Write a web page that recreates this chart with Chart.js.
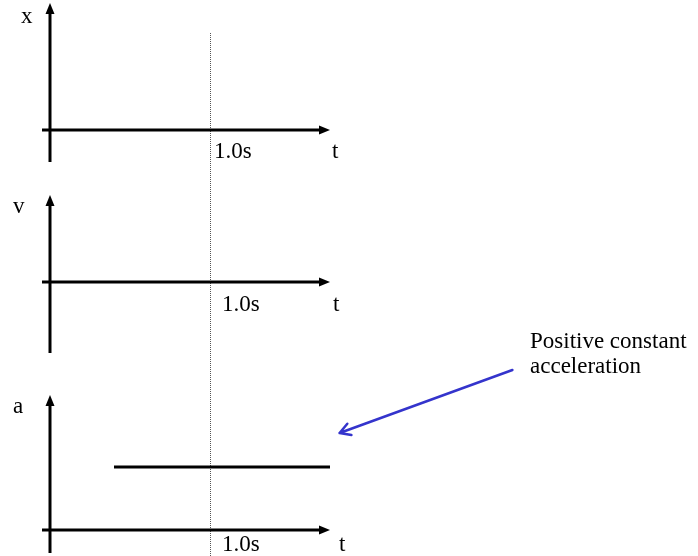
<!DOCTYPE html>
<html>
<head>
<meta charset="utf-8">
<script src="https://cdn.jsdelivr.net/npm/chart.js@4/dist/chart.umd.min.js"></script>
<style>
  html, body { margin: 0; padding: 0; background: #ffffff; }
  #wrap { position: relative; width: 698px; height: 556px; }
</style>
</head>
<body>
<div id="wrap"><canvas id="chart" width="698" height="556"></canvas></div>
<script>
// ---------------- data ----------------
const panelVariables = ['x', 'v', 'a'];
const timeAxisLabel = 't';
const markerTimes = [1.0];
const markerLabels = ['1.0s'];
const accelerationTimes = [0.4, 1.75];
const accelerationValues = [1, 1];
const annotationLines = ['Positive constant', 'acceleration'];

// ---------------- layout (positions / styles) ----------------
const W = 698, H = 556;
const PX_PER_SECOND = 160;
const T_ZERO_PX = 50;
const UNIT_PX = 63;
const T_AXIS_START = -0.05;
const T_AXIS_END = 1.75;
const FONT = '23px "Liberation Serif", "Times New Roman", serif';

const PANELS = [
  { scale: 'yX', zeroPx: 130, axisTopPx: 3,   axisBottomPx: 162, label: [21, 23],  tick: [214, 158], tLabel: [332, 158] },
  { scale: 'yV', zeroPx: 282, axisTopPx: 195, axisBottomPx: 353, label: [13, 213], tick: [222, 311], tLabel: [333, 311] },
  { scale: 'yA', zeroPx: 530, axisTopPx: 395, axisBottomPx: 553, label: [13, 413], tick: [222, 551], tLabel: [339, 551] }
];
const MARKER_TOP_PX = 33;
const ANNOTATION = { tail: [2.89, 2.54], tip: [1.81, 1.54], scale: 'yA', text: [530, 348], lineGap: 25, color: '#3434cc' };

// y scales, one per panel; 0 sits on that panel's t axis
const scales = {
  x: { type: 'linear', display: false, min: -T_ZERO_PX / PX_PER_SECOND, max: (W - T_ZERO_PX) / PX_PER_SECOND, bounds: 'data' }
};
PANELS.forEach(p => {
  scales[p.scale] = {
    type: 'linear', display: false, position: 'left', bounds: 'data', grace: 0,
    min: (p.zeroPx - H) / UNIT_PX, max: p.zeroPx / UNIT_PX
  };
  p.axisTop = (p.zeroPx - p.axisTopPx) / UNIT_PX;
  p.axisBottom = (p.zeroPx - p.axisBottomPx) / UNIT_PX;
});

function drawFilledArrowHead(ctx, tipX, tipY, dir, len, half) {
  ctx.beginPath();
  if (dir === 'up') {
    ctx.moveTo(tipX, tipY);
    ctx.lineTo(tipX - half, tipY + len);
    ctx.lineTo(tipX + half, tipY + len);
  } else {
    ctx.moveTo(tipX, tipY);
    ctx.lineTo(tipX - len, tipY - half);
    ctx.lineTo(tipX - len, tipY + half);
  }
  ctx.closePath();
  ctx.fill();
}

const decorations = {
  id: 'decorations',
  beforeDatasetsDraw(chart) {
    const ctx = chart.ctx;
    const xs = chart.scales.x;
    ctx.save();
    ctx.strokeStyle = '#555555';
    ctx.lineWidth = 1;
    ctx.setLineDash([1, 1]);
    markerTimes.forEach(t => {
      const px = Math.round(xs.getPixelForValue(t)) + 0.5;
      ctx.beginPath();
      ctx.moveTo(px, MARKER_TOP_PX);
      ctx.lineTo(px, H);
      ctx.stroke();
    });
    ctx.restore();
  },
  afterDatasetsDraw(chart) {
    const ctx = chart.ctx;
    const xs = chart.scales.x;
    ctx.save();
    ctx.strokeStyle = '#000000';
    ctx.fillStyle = '#000000';
    ctx.lineWidth = 3;
    ctx.setLineDash([]);
    const x0 = xs.getPixelForValue(0);
    PANELS.forEach((p, i) => {
      const ys = chart.scales[p.scale];
      const yZero = ys.getPixelForValue(0);
      const yTop = ys.getPixelForValue(p.axisTop);
      const yBottom = ys.getPixelForValue(p.axisBottom);
      // vertical axis
      ctx.beginPath();
      ctx.moveTo(x0, yBottom);
      ctx.lineTo(x0, yTop + 9);
      ctx.stroke();
      drawFilledArrowHead(ctx, x0, yTop, 'up', 11, 4.5);
      // time axis
      const xStart = xs.getPixelForValue(T_AXIS_START);
      const xEnd = xs.getPixelForValue(T_AXIS_END);
      ctx.beginPath();
      ctx.moveTo(xStart, yZero);
      ctx.lineTo(xEnd - 9, yZero);
      ctx.stroke();
      drawFilledArrowHead(ctx, xEnd, yZero, 'right', 11, 4.5);
      // labels
      ctx.font = FONT;
      ctx.textAlign = 'left';
      ctx.textBaseline = 'alphabetic';
      ctx.fillText(panelVariables[i], p.label[0], p.label[1]);
      ctx.fillText(markerLabels[0], p.tick[0], p.tick[1]);
      ctx.fillText(timeAxisLabel, p.tLabel[0], p.tLabel[1]);
    });
    // annotation
    const ya = chart.scales[ANNOTATION.scale];
    const tx = xs.getPixelForValue(ANNOTATION.tail[0]), ty = ya.getPixelForValue(ANNOTATION.tail[1]);
    const hx = xs.getPixelForValue(ANNOTATION.tip[0]), hy = ya.getPixelForValue(ANNOTATION.tip[1]);
    ctx.strokeStyle = ANNOTATION.color;
    ctx.lineWidth = 2.5;
    ctx.lineCap = 'round';
    ctx.lineJoin = 'round';
    ctx.beginPath();
    ctx.moveTo(tx, ty);
    ctx.lineTo(hx, hy);
    const ang = Math.atan2(hy - ty, hx - tx);
    const armLen = 12, spread = Math.PI / 6;
    ctx.moveTo(hx - armLen * Math.cos(ang - spread), hy - armLen * Math.sin(ang - spread));
    ctx.lineTo(hx, hy);
    ctx.lineTo(hx - armLen * Math.cos(ang + spread), hy - armLen * Math.sin(ang + spread));
    ctx.stroke();
    ctx.fillStyle = '#000000';
    ctx.font = FONT;
    annotationLines.forEach((line, k) => {
      ctx.fillText(line, ANNOTATION.text[0], ANNOTATION.text[1] + k * ANNOTATION.lineGap);
    });
    ctx.restore();
  }
};

new Chart(document.getElementById('chart'), {
  type: 'line',
  data: {
    datasets: [{
      label: 'a',
      data: accelerationTimes.map((t, i) => ({ x: t, y: accelerationValues[i] })),
      xAxisID: 'x',
      yAxisID: 'yA',
      borderColor: '#000000',
      borderWidth: 3,
      pointRadius: 0,
      fill: false,
      tension: 0
    }]
  },
  options: {
    responsive: false,
    animation: false,
    devicePixelRatio: 1,
    layout: { padding: 0 },
    scales: scales,
    plugins: { legend: { display: false }, tooltip: { enabled: false } }
  },
  plugins: [decorations]
});
</script>
</body>
</html>
